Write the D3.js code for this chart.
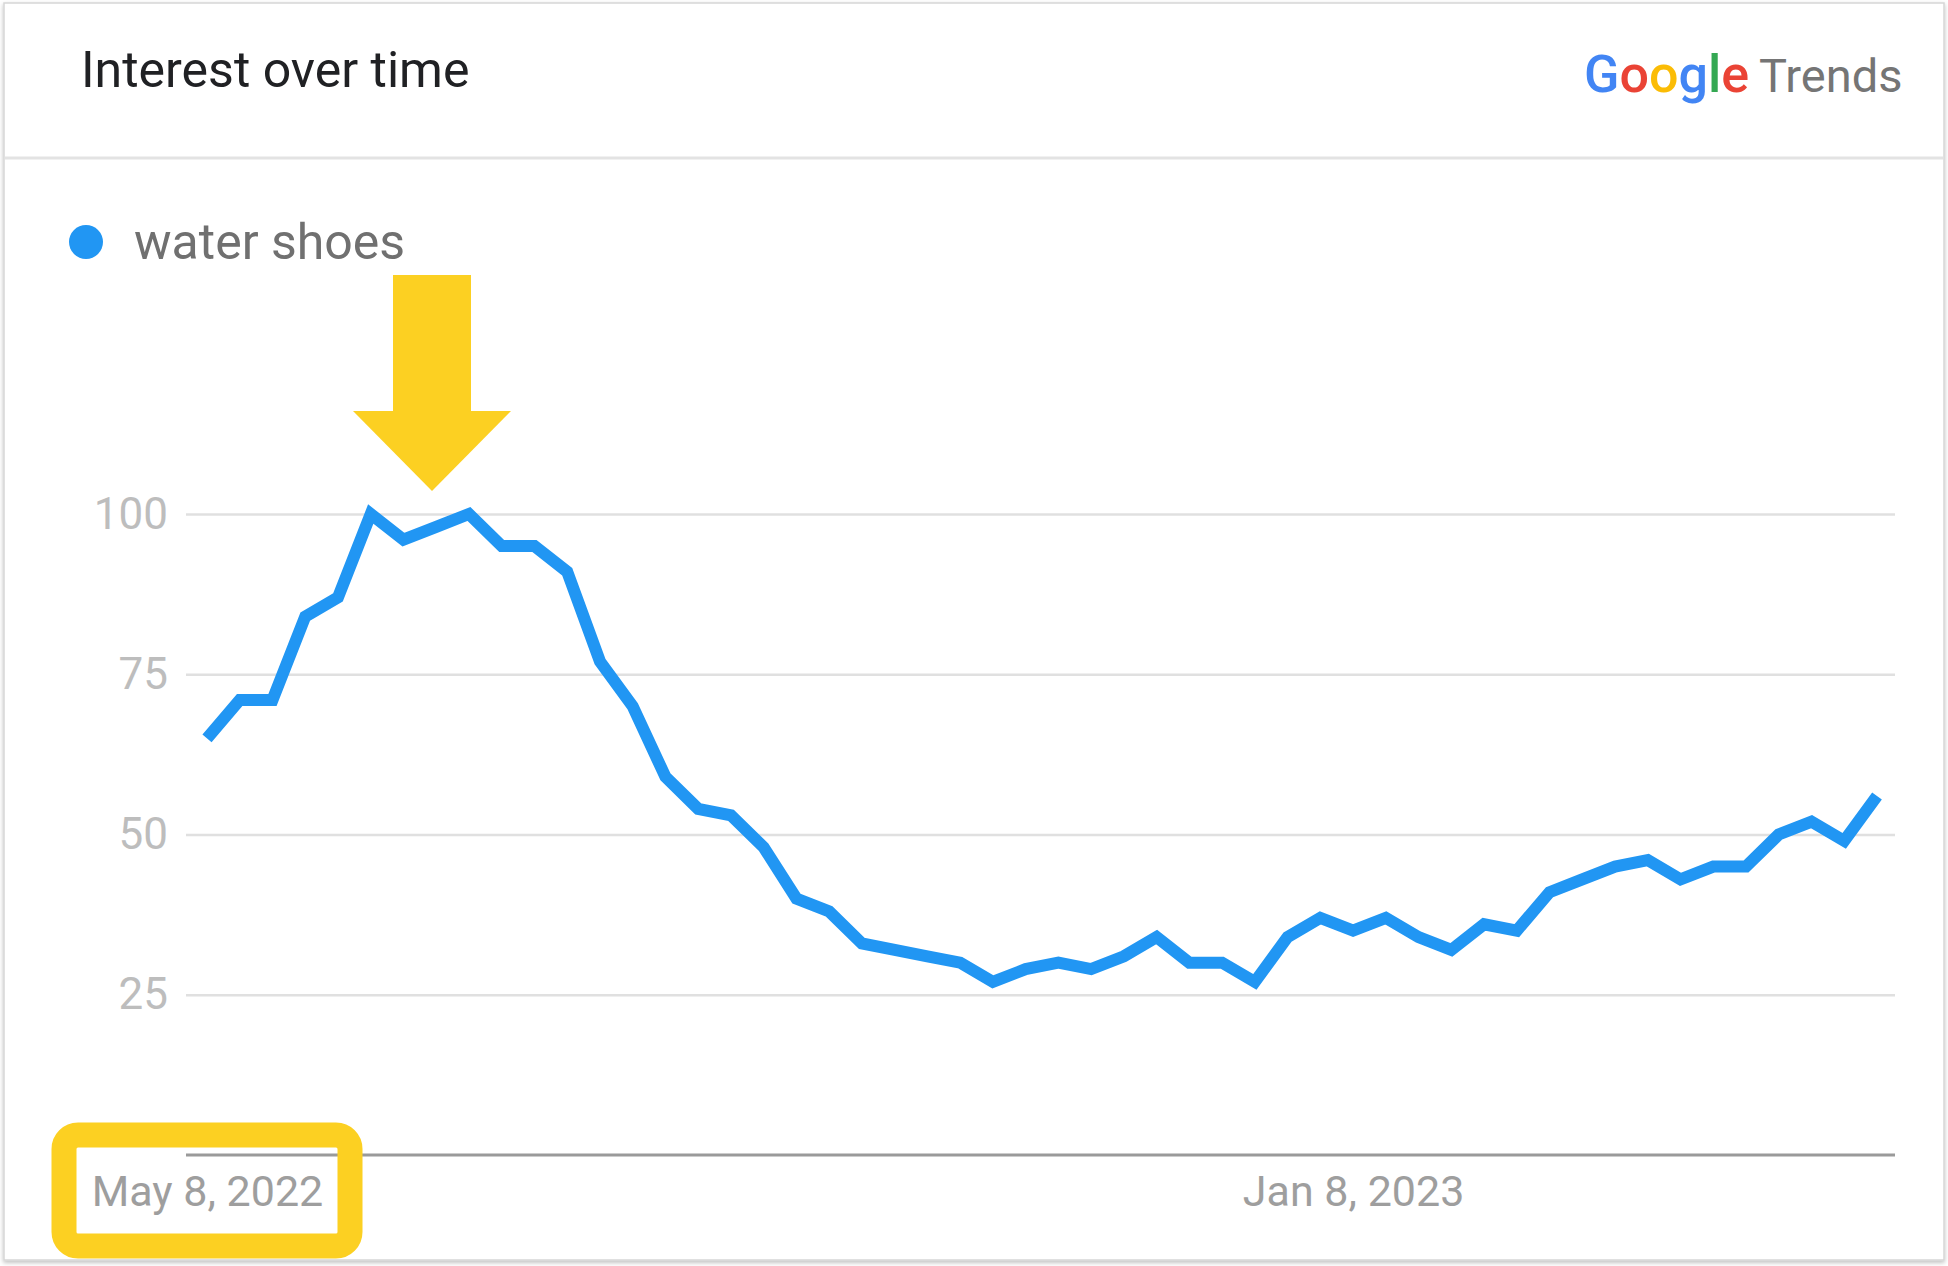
<!DOCTYPE html>
<html>
<head>
<meta charset="utf-8">
<script src="https://cdn.jsdelivr.net/npm/d3@7"></script>
<style>
  body { margin: 0; background: #fff; }
  text { font-family: Roboto, "Noto Sans", sans-serif; }
</style>
</head>
<body>
<div id="chart"></div>
<script>
// data: weekly interest, starting May 8, 2022
const startDate = "2022-05-08";
const seriesName = "water shoes";
const interest = [
  65, 71, 71, 84, 87, 100, 96, 98, 100, 95, 95, 91, 77, 70, 59, 54, 53, 48,
  40, 38, 33, 32, 31, 30, 27, 29, 30, 29, 31, 34, 30, 30, 27, 34, 37, 35,
  37, 34, 32, 36, 35, 41, 43, 45, 46, 43, 45, 45, 50, 52, 49, 56
];
const yTicks = [25, 50, 75, 100];
const xTickLabels = ["2022-05-08", "2023-01-08"];

const width = 1948;
const height = 1266;

const parse = d3.timeParse("%Y-%m-%d");
const week0 = parse(startDate);
const points = interest.map((v, i) => ({ date: d3.timeWeek.offset(week0, i), value: v }));

const svg = d3
  .select("#chart")
  .append("svg")
  .attr("width", width)
  .attr("height", height);

// card frame + shadow
const defs = svg.append("defs");
const shadow = defs.append("filter").attr("id", "shadow").attr("x", "-5%").attr("y", "-5%").attr("width", "110%").attr("height", "110%");
shadow.append("feDropShadow").attr("dx", 0).attr("dy", 2).attr("stdDeviation", 2).attr("flood-color", "#000").attr("flood-opacity", 0.25);

svg.append("rect")
  .attr("x", 4).attr("y", 3)
  .attr("width", width - 8).attr("height", height - 9)
  .attr("fill", "#fff")
  .attr("stroke", "#d6d6d6")
  .attr("stroke-width", 1.5)
  .attr("filter", "url(#shadow)");

// header
svg.append("text")
  .attr("x", 81).attr("y", 87)
  .attr("font-size", 50)
  .attr("fill", "#202124")
  .text("Interest over time");

const logo = svg.append("text")
  .attr("x", 1584).attr("y", 92)
  .attr("font-size", 52)
  .attr("font-family", "'Open Sans', Roboto, sans-serif");
const googleColors = ["#4285F4", "#EA4335", "#FBBC05", "#4285F4", "#34A853", "#EA4335"];
"Google".split("").forEach((c, i) => {
  logo.append("tspan").attr("fill", googleColors[i]).attr("font-weight", 500).text(c);
});
svg.append("text")
  .attr("x", 1759).attr("y", 92)
  .attr("font-size", 47)
  .attr("fill", "#757575")
  .text("Trends");

svg.append("line")
  .attr("x1", 5).attr("x2", width - 5)
  .attr("y1", 158).attr("y2", 158)
  .attr("stroke", "#e3e3e3")
  .attr("stroke-width", 3);

// legend
svg.append("circle")
  .attr("cx", 86).attr("cy", 242).attr("r", 17)
  .attr("fill", "#2196f3");
svg.append("text")
  .attr("x", 134).attr("y", 259)
  .attr("font-size", 50)
  .attr("fill", "#707070")
  .text(seriesName);

// scales
const left = 186, right = 1895;
const x = d3.scaleTime()
  .domain([points[0].date, points[points.length - 1].date])
  .range([207, 1877]);
const y = d3.scaleLinear()
  .domain([0, 100])
  .range([1155, 514]);

// y axis with gridlines
const yAxis = svg.append("g")
  .attr("transform", `translate(${left},0)`)
  .call(d3.axisLeft(y).tickValues(yTicks).tickSizeInner(-(right - left)).tickSizeOuter(0).tickPadding(18));
yAxis.select(".domain").remove();
yAxis.selectAll(".tick line").attr("stroke", "#e0e0e0").attr("stroke-width", 2.5);
yAxis.selectAll(".tick text")
  .attr("font-size", 44)
  .attr("fill", "#bdbdbd")
  .attr("font-family", "Roboto, sans-serif");

// x axis
const fmt = d3.timeFormat("%b %-d, %Y");
const xAxis = svg.append("g")
  .attr("transform", `translate(0,${y(0)})`)
  .call(d3.axisBottom(x).tickValues(xTickLabels.map(parse)).tickFormat(fmt).tickSize(0).tickPadding(20));
xAxis.select(".domain").remove();
xAxis.selectAll(".tick text")
  .attr("font-size", 43)
  .attr("fill", "#9e9e9e")
  .attr("font-family", "Roboto, sans-serif");
svg.append("line")
  .attr("x1", left).attr("x2", right)
  .attr("y1", y(0)).attr("y2", y(0))
  .attr("stroke", "#9a9a9a")
  .attr("stroke-width", 3);

// series line
const line = d3.line()
  .x(d => x(d.date))
  .y(d => y(d.value));
svg.append("path")
  .datum(points)
  .attr("fill", "none")
  .attr("stroke", "#2196f3")
  .attr("stroke-width", 12)
  .attr("stroke-linejoin", "miter")
  .attr("d", line);

// annotations: yellow arrow and highlight box
const yellow = "#fcd022";
svg.append("rect")
  .attr("x", 393).attr("y", 275)
  .attr("width", 78).attr("height", 137)
  .attr("fill", yellow);
svg.append("path")
  .attr("d", "M353,411 L511,411 L432,491 Z")
  .attr("fill", yellow);
svg.append("rect")
  .attr("x", 64).attr("y", 1135)
  .attr("width", 286).attr("height", 111)
  .attr("rx", 14)
  .attr("fill", "none")
  .attr("stroke", yellow)
  .attr("stroke-width", 25);
</script>
</body>
</html>
